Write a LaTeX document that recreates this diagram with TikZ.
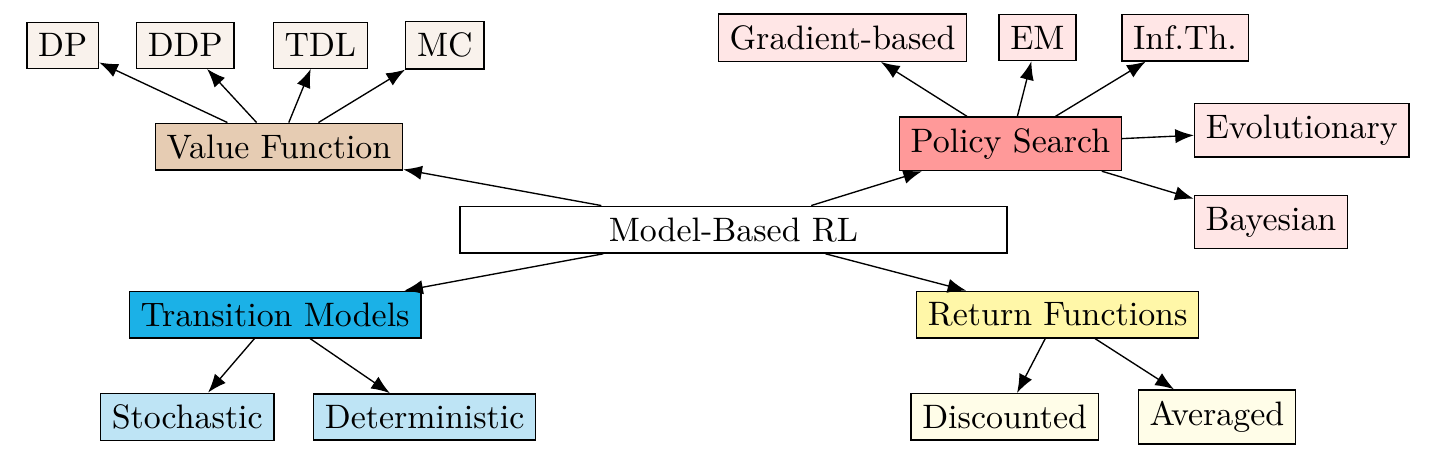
\documentclass[tikz,border=0pt]{standalone}
\usetikzlibrary{arrows.meta}

\definecolor{vfcol}{RGB}{230,204,179}
\definecolor{vfleaf}{RGB}{249,242,236}
\definecolor{pscol}{RGB}{255,153,153}
\definecolor{psleaf}{RGB}{255,230,230}
\definecolor{tmcol}{RGB}{27,177,231}
\definecolor{tmleaf}{RGB}{190,228,245}
\definecolor{rfcol}{RGB}{255,247,168}
\definecolor{rfleaf}{RGB}{255,253,232}

\tikzset{box/.style={draw,rectangle}}

\begin{document}
\begin{tikzpicture}[x=1cm,y=1cm,>={Latex[length=5.5pt,width=4.2pt]}]
\useasboundingbox (0,0) rectangle (14.87,-4.705);

\node[box,minimum width=5.67cm] (mbrl) at (7.60,-2.38) {Model-Based RL};

% value function branch
\node[box,fill=vfcol] (vf) at (2.89,-1.52) {Value Function};
\node[box,fill=vfleaf] (dp) at (0.65,-0.47) {DP};
\node[box,fill=vfleaf] (ddp) at (1.92,-0.47) {DDP};
\node[box,fill=vfleaf] (tdl) at (3.32,-0.47) {TDL};
\node[box,fill=vfleaf] (mc) at (4.61,-0.47) {MC};

% policy search branch
\node[box,fill=pscol] (ps) at (10.47,-1.49) {Policy Search};
\node[box,fill=psleaf] (grad) at (8.73,-0.39) {Gradient-based};
\node[box,fill=psleaf] (em) at (10.75,-0.39) {EM};
\node[box,fill=psleaf] (inf) at (12.28,-0.39) {Inf.Th.};
\node[box,fill=psleaf] (evo) at (13.49,-1.35) {Evolutionary};
\node[box,fill=psleaf] (bay) at (13.17,-2.30) {Bayesian};

% transition models branch
\node[box,fill=tmcol] (tm) at (2.85,-3.26) {Transition Models};
\node[box,fill=tmleaf] (sto) at (1.94,-4.32) {Stochastic};
\node[box,fill=tmleaf] (det) at (4.40,-4.32) {Deterministic};

% return functions branch
\node[box,fill=rfcol] (rf) at (10.96,-3.26) {Return Functions};
\node[box,fill=rfleaf] (dis) at (10.41,-4.32) {Discounted};
\node[box,fill=rfleaf] (avg) at (12.61,-4.32) {Averaged};

\draw[->] (mbrl) -- (vf);
\draw[->] (mbrl) -- (ps);
\draw[->] (mbrl) -- (tm);
\draw[->] (mbrl) -- (rf);

\foreach \leaf in {dp,ddp,tdl,mc}
  \draw[->] (vf) -- (\leaf);
\foreach \leaf in {grad,em,inf,evo,bay}
  \draw[->] (ps) -- (\leaf);
\foreach \leaf in {sto,det}
  \draw[->] (tm) -- (\leaf);
\foreach \leaf in {dis,avg}
  \draw[->] (rf) -- (\leaf);
\end{tikzpicture}
\end{document}
